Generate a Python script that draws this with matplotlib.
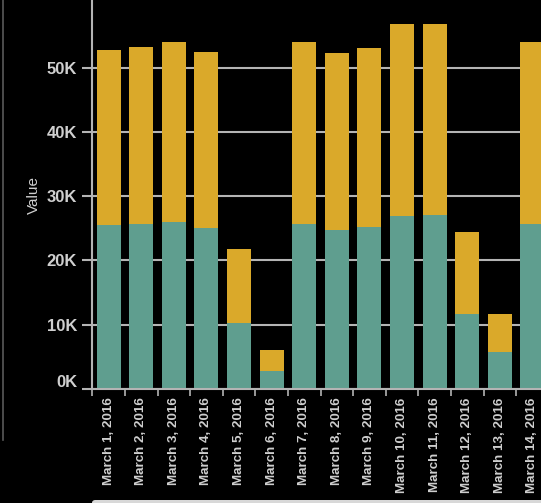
import matplotlib.pyplot as plt
import matplotlib.transforms as mtransforms
from matplotlib.patches import FancyBboxPatch

OUTPUT = "out.png"

dates = ["March 1, 2016", "March 2, 2016", "March 3, 2016", "March 4, 2016",
         "March 5, 2016", "March 6, 2016", "March 7, 2016", "March 8, 2016",
         "March 9, 2016", "March 10, 2016", "March 11, 2016", "March 12, 2016",
         "March 13, 2016", "March 14, 2016"]
lower = [25500, 25700, 26000, 25000, 10200, 2800, 25600, 24700,
         25200, 26900, 27100, 11700, 5800, 25600]
totals = [52800, 53200, 54000, 52400, 21700, 6070, 54000, 52200,
          53100, 56700, 56700, 24400, 11600, 54000]
upper = [t - l for t, l in zip(totals, lower)]

y_ticks = [0, 10000, 20000, 30000, 40000, 50000]
y_labels = ["0K", "10K", "20K", "30K", "40K", "50K"]

TEAL = "#5f9e8f"
GOLD = "#daa92a"
TEXT = "#cfcfcf"


def main():
    plt.rcParams["font.family"] = ["Liberation Sans", "DejaVu Sans"]
    fig = plt.figure(figsize=(5.41, 5.03), dpi=100, facecolor="black")

    # left panel border and bottom panel
    fig.add_artist(plt.Line2D([3 / 541, 3 / 541], [1, 63 / 503],
                              color="#5a5a5a", lw=1.2))
    fig.add_artist(FancyBboxPatch((92 / 541, -0.05), 0.9, 0.05 + 3 / 503,
                                  boxstyle="round,pad=0,rounding_size=0.006",
                                  transform=fig.transFigure,
                                  facecolor="#d8d8d8", edgecolor="none"))

    ax = fig.add_axes([92.3 / 541, 114 / 503, 14 * 32.6 / 541, 389 / 503])
    ax.set_facecolor("black")

    x = range(len(dates))
    ax.bar(x, lower, width=0.736, color=TEAL, zorder=2)
    ax.bar(x, upper, bottom=lower, width=0.736, color=GOLD, zorder=2)

    ax.set_xlim(-0.5, 13.5)
    ax.set_ylim(0, 60500)

    ax.set_yticks(y_ticks)
    ax.set_yticklabels(y_labels)
    ax.grid(axis="y", color="#b4b4b4", lw=1.5, zorder=0)
    ax.tick_params(axis="y", colors="#b4b4b4", length=7, width=1.5,
                   labelcolor=TEXT, labelsize=12, pad=4)
    for lab in ax.get_yticklabels():
        lab.set_fontweight("bold")
    # the 0K label sits a little above its tick
    zero = ax.get_yticklabels()[0]
    zero.set_transform(zero.get_transform() +
                       mtransforms.ScaledTranslation(0, 8 / 100, fig.dpi_scale_trans))

    # ticks at band edges, labels at bar centres
    ax.set_xticks([i - 0.5 for i in x])
    ax.set_xticklabels([])
    ax.set_xticks(list(x), minor=True)
    ax.set_xticklabels(dates, minor=True, rotation=90, fontsize=9.6,
                       fontweight="bold", color=TEXT, va="top", ha="center")
    ax.tick_params(axis="x", which="major", colors="#b4b4b4", length=5, width=1.2)
    ax.tick_params(axis="x", which="minor", length=0, pad=6)

    for side in ["top", "right"]:
        ax.spines[side].set_visible(False)
    for side in ["left", "bottom"]:
        ax.spines[side].set_color("#b4b4b4")
        ax.spines[side].set_linewidth(1.5)

    ax.set_ylabel("Value", color=TEXT, fontsize=11)
    ax.yaxis.set_label_coords(-0.113, 0.5)

    fig.savefig(OUTPUT, dpi=100, facecolor="black")
    plt.close(fig)


if __name__ == "__main__":
    main()
